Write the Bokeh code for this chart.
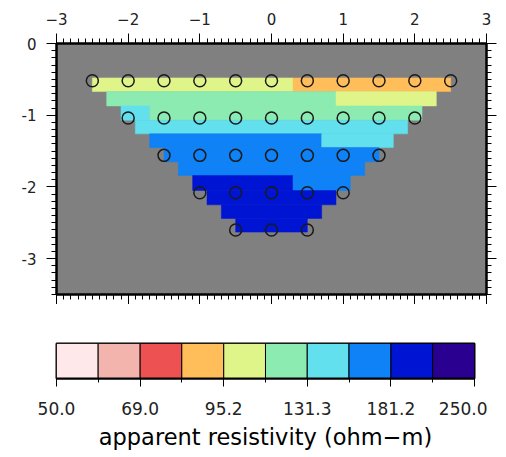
from bokeh.plotting import figure
from bokeh.models import (ColumnDataSource, LinearAxis, FixedTicker, SingleIntervalTicker,
                          PrintfTickFormatter, Range1d)
from bokeh.transform import log_cmap
from bokeh.layouts import column
from bokeh.embed import file_html
from bokeh.resources import INLINE

# ---------------- data ----------------
x_ticks = [-3, -2, -1, 0, 1, 2, 3]
x_tick_labels = ["\u22123", "\u22122", "\u22121", "0", "1", "2", "3"]
y_ticks = [0, -1, -2, -3]
y_tick_labels = ["0", "-1", "-2", "-3"]

# measurement points (midpoint x, pseudo-depth)
pt_x = [-2.5, -2.0, -1.5, -1.0, -0.5, 0.0, 0.5, 1.0, 1.5, 2.0, 2.5,
        -2.0, -1.5, -1.0, -0.5, 0.0, 0.5, 1.0, 1.5, 2.0,
        -1.5, -1.0, -0.5, 0.0, 0.5, 1.0, 1.5,
        -1.0, -0.5, 0.0, 0.5, 1.0,
        -0.5, 0.0, 0.5]
pt_depth = [0.52] * 11 + [1.04] * 9 + [1.56] * 7 + [2.08] * 5 + [2.60] * 3

# gridded pseudosection: depth bands and runs of constant apparent resistivity
depth_edges = [0.48, 0.67, 0.87, 1.07, 1.26, 1.45, 1.65, 1.84, 2.05, 2.25, 2.44, 2.63]
seg_band = [0, 0, 1, 1, 2, 2, 3, 4, 4, 5, 6, 7, 7, 8, 9, 10]
seg_x0 = [-2.5, 0.3, -2.3, 0.9, -2.1, -1.7, -1.9, -1.7, 0.7, -1.5, -1.3, -1.1, 0.3, -0.9, -0.7, -0.5]
seg_x1 = [0.3, 2.5, 0.9, 2.3, -1.7, 2.1, 1.9, 0.7, 1.7, 1.5, 1.3, 0.3, 1.1, 0.9, 0.7, 0.5]
seg_rho = [102, 88, 122, 104, 140, 122, 142, 165, 145, 168, 170, 195, 167, 197, 198, 200]

# colour scale (ohm-m)
rho_min, rho_max = 50.0, 250.0
class_bounds = [50.0, 58.7, 69.0, 81.0, 95.2, 111.8, 131.3, 154.2, 181.2, 212.8, 250.0]
bar_label_values = [50.0, 69.0, 95.2, 131.3, 181.2, 250.0]
bar_minor_values = [58.7, 81.0, 111.8, 154.2, 212.8]
palette = ["#FFE8EA", "#F4B4AE", "#EE5151", "#FFBE5A", "#DFF58A",
           "#8CEBB0", "#62E0EE", "#0E82F6", "#0014D4", "#2A0090"]
bar_title = "apparent resistivity (ohm\u2212m)"

FONT = "DejaVu Sans"

# ---------------- main pseudosection ----------------
p = figure(frame_width=430, frame_height=251,
           x_range=Range1d(-3, 3), y_range=Range1d(-3.5, 0),
           x_axis_location="above", output_backend="svg", toolbar_location=None,
           min_border_left=56, min_border_top=43, min_border_right=12, min_border_bottom=10,
           background_fill_color="#808080", border_fill_color="white")
p.grid.visible = False
p.outline_line_color = "black"
p.outline_line_width = 2

bottom_axis = LinearAxis()
right_axis = LinearAxis()
p.add_layout(bottom_axis, "below")
p.add_layout(right_axis, "right")


def style_axis(ax, labels=None, standoff=6):
    ax.ticker = SingleIntervalTicker(interval=1, num_minor_ticks=10)
    ax.axis_line_width = 2
    ax.axis_line_color = "black"
    ax.major_tick_out = 10
    ax.major_tick_in = 0
    ax.minor_tick_out = 5
    ax.minor_tick_in = 0
    ax.major_tick_line_color = "black"
    ax.minor_tick_line_color = "black"
    ax.major_tick_line_width = 1
    ax.minor_tick_line_width = 1
    if labels is None:
        ax.major_label_text_font_size = "0px"
        ax.major_label_text_color = None
        ax.major_label_standoff = 0
    else:
        ax.major_label_overrides = labels
        ax.major_label_text_font = FONT
        ax.major_label_text_font_size = "15px"
        ax.major_label_text_color = "#222222"
        ax.major_label_standoff = standoff


for ax in p.above:
    style_axis(ax, dict(zip(x_ticks, x_tick_labels)), 9)
for ax in p.left:
    style_axis(ax, dict(zip(y_ticks, y_tick_labels)), 10)
style_axis(bottom_axis)
style_axis(right_axis)

seg_src = ColumnDataSource(dict(
    left=seg_x0, right=seg_x1,
    top=[-depth_edges[b] for b in seg_band],
    bottom=[-depth_edges[b + 1] for b in seg_band],
    rho=seg_rho))
cmap = log_cmap("rho", palette, rho_min, rho_max)
p.quad(left="left", right="right", top="top", bottom="bottom", source=seg_src,
       fill_color=cmap, line_color=cmap, line_width=0.5)

p.scatter(x=pt_x, y=[-d for d in pt_depth], marker="circle", size=12,
          fill_color=None, line_color="#1a1a1a", line_width=1.5)

# ---------------- colour bar ----------------
cb = figure(frame_width=418, frame_height=35, x_axis_type="log",
            x_range=Range1d(rho_min, rho_max), y_range=Range1d(0, 1),
            y_axis_location=None, output_backend="svg", toolbar_location=None,
            min_border_left=56, min_border_top=39, min_border_right=13, min_border_bottom=0,
            border_fill_color="white")
cb.grid.visible = False
cb.outline_line_color = "black"
cb.outline_line_width = 2
cb.quad(left=class_bounds[:-1], right=class_bounds[1:], bottom=0, top=1,
        fill_color=palette, line_color="black", line_width=1)

cax = cb.xaxis[0]
cax.ticker = FixedTicker(ticks=bar_label_values, minor_ticks=bar_minor_values)
cax.formatter = PrintfTickFormatter(format="%.1f")
cax.axis_line_width = 2
cax.major_tick_out = 8
cax.major_tick_in = 0
cax.minor_tick_out = 4
cax.minor_tick_in = 0
cax.major_tick_line_color = "black"
cax.minor_tick_line_color = "black"
cax.major_label_text_font = FONT
cax.major_label_text_font_size = "17px"
cax.major_label_text_color = "#222222"
cax.major_label_standoff = 15
cax.axis_label = bar_title
cax.axis_label_text_font = FONT
cax.axis_label_text_font_size = "22.5px"
cax.axis_label_text_font_style = "normal"
cax.axis_label_text_color = "black"
cax.axis_label_standoff = 6

layout = column(p, cb)
open("out.html", "w").write(file_html(layout, INLINE))
